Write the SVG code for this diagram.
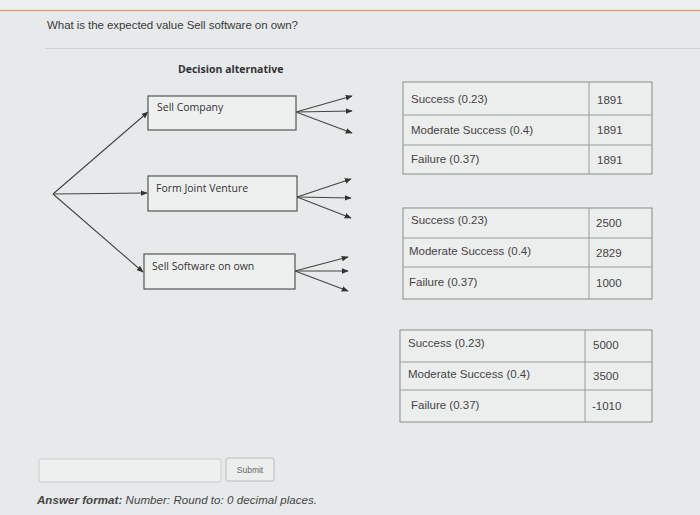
<svg xmlns="http://www.w3.org/2000/svg" width="700" height="515" viewBox="0 0 700 515">
<defs>
<style>
.bg{fill:#e6eaea}
.q{font-family:"Liberation Sans",Arial,sans-serif;font-size:11.5px;fill:#3a3a3a}
.lbl{font-family:"Open Sans","Liberation Sans",sans-serif;font-size:10.5px;fill:#333}
.hd{font-family:"Open Sans","Liberation Sans",sans-serif;font-size:10.5px;font-weight:bold;fill:#333}
.box{fill:#eef0f0;stroke:#555;stroke-width:1.2}
.tbl{fill:#eceeee;stroke:#8a8a8a;stroke-width:1}
.grid{stroke:#9a9a9a;stroke-width:1}
.t{font-family:"Liberation Sans",Arial,sans-serif;font-size:11.5px;fill:#444}
.edge{stroke:#444;stroke-width:1.1;fill:none;marker-end:url(#ah)}
</style>
<marker id="ah" viewBox="0 0 10 10" refX="9" refY="5" markerWidth="7" markerHeight="7" orient="auto" markerUnits="userSpaceOnUse">
<path d="M0,1 L10,5 L0,9 z" fill="#333"/>
</marker>
</defs>
<rect class="bg" x="0" y="0" width="700" height="515"/>
<rect x="0" y="0" width="700" height="10" fill="#eef0f0"/>
<line x1="0" y1="10.5" x2="700" y2="10.5" stroke="#d9a27f" stroke-width="1.5"/>
<text class="q" x="47" y="29" textLength="251">What is the expected value Sell software on own?</text>
<line x1="45" y1="48.5" x2="700" y2="48.5" stroke="#d0d4d4" stroke-width="1"/>
<text class="hd" x="178" y="73">Decision alternative</text>

<g id="connectors">
<path class="edge" d="M53,194 L148,112"/>
<path class="edge" d="M53,194 L147,193"/>
<path class="edge" d="M53,194 L143,272"/>
<path class="edge" d="M296,112 L352,96"/>
<path class="edge" d="M296,112 L352,111"/>
<path class="edge" d="M296,112 L352,133"/>
<path class="edge" d="M297,197 L351,179"/>
<path class="edge" d="M297,197 L351,198"/>
<path class="edge" d="M297,197 L351,218"/>
<path class="edge" d="M295,271 L348,257"/>
<path class="edge" d="M295,271 L348,271"/>
<path class="edge" d="M295,271 L348,291"/>
</g>

<g id="sell-company">
<rect class="box" x="148" y="96" width="148" height="34"/>
<text class="lbl" x="157" y="111">Sell Company</text>
</g>
<g id="joint-venture">
<rect class="box" x="148" y="176" width="149" height="35"/>
<text class="lbl" x="156" y="192">Form Joint Venture</text>
</g>
<g id="sell-software">
<rect class="box" x="144" y="254" width="151" height="35"/>
<text class="lbl" x="152" y="270">Sell Software on own</text>
</g>

<g id="table-company">
<rect class="tbl" x="403" y="82" width="249" height="92"/>
<line class="grid" x1="589" y1="82" x2="589" y2="174"/>
<line class="grid" x1="403" y1="115" x2="652" y2="115"/>
<line class="grid" x1="403" y1="145" x2="652" y2="145"/>
<text class="t" x="411" y="103">Success (0.23)</text>
<text class="t" x="411" y="134">Moderate Success (0.4)</text>
<text class="t" x="411" y="163">Failure (0.37)</text>
<text class="t" x="597" y="104">1891</text>
<text class="t" x="597" y="134">1891</text>
<text class="t" x="597" y="164">1891</text>
</g>
<g id="table-jv">
<rect class="tbl" x="403" y="208" width="249" height="91"/>
<line class="grid" x1="589" y1="208" x2="589" y2="299"/>
<line class="grid" x1="403" y1="238" x2="652" y2="238"/>
<line class="grid" x1="403" y1="267" x2="652" y2="267"/>
<text class="t" x="411" y="224">Success (0.23)</text>
<text class="t" x="409" y="255">Moderate Success (0.4)</text>
<text class="t" x="409" y="286">Failure (0.37)</text>
<text class="t" x="596" y="227">2500</text>
<text class="t" x="596" y="257">2829</text>
<text class="t" x="596" y="287">1000</text>
</g>
<g id="table-software">
<rect class="tbl" x="400" y="330" width="252" height="92"/>
<line class="grid" x1="585" y1="330" x2="585" y2="422"/>
<line class="grid" x1="400" y1="362" x2="652" y2="362"/>
<line class="grid" x1="400" y1="390" x2="652" y2="390"/>
<text class="t" x="408" y="347">Success (0.23)</text>
<text class="t" x="408" y="378">Moderate Success (0.4)</text>
<text class="t" x="411" y="409">Failure (0.37)</text>
<text class="t" x="593" y="349">5000</text>
<text class="t" x="593" y="380">3500</text>
<text class="t" x="592" y="410">-1010</text>
</g>

<rect x="39" y="459" width="182" height="23" rx="2" fill="#eef0f0" stroke="#c8cccc"/>
<rect x="226" y="458" width="48" height="23" rx="2" fill="#eceeee" stroke="#b8bcbc"/>
<text x="250" y="473" text-anchor="middle" font-family="Liberation Sans, Arial, sans-serif" font-size="8.5" fill="#666">Submit</text>
<text x="37" y="504" font-family="Liberation Sans, Arial, sans-serif" font-size="11.5" fill="#444" font-style="italic" textLength="280"><tspan font-weight="bold">Answer format:</tspan> Number: Round to: 0 decimal places.</text>
</svg>
